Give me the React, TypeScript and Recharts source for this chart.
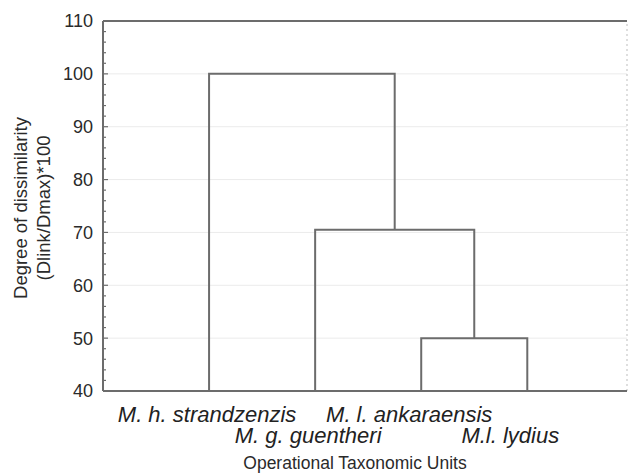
import React from 'react';
import { ScatterChart, Scatter, XAxis, YAxis, ReferenceLine } from 'recharts';

// Leaves (operational taxonomic units) in dendrogram order
const LEAVES = ['M. h. strandzenzis', 'M. g. guentheri', 'M. l. ankaraensis', 'M.l. lydius'];
const LEAF_POS = [1, 2, 3, 4];
const LEAF_HEIGHT = 40;

// Joins: node ids 0-3 are leaves, each join creates node 4, 5, 6...
const JOIN_LEFT = [2, 1, 0];
const JOIN_RIGHT = [3, 4, 5];
const JOIN_HEIGHT = [50, 70.5, 100];

const Y_MAJOR = [40, 50, 60, 70, 80, 90, 100, 110];
const X_DOMAIN = [0, 4.94];

const FONT = '"Liberation Sans", Arial, sans-serif';
const LINE = '#6c6c6c';

// build the U-shaped links from the join table
const buildLinks = () => {
    const nodeX = [...LEAF_POS];
    const nodeH = LEAF_POS.map(() => LEAF_HEIGHT);
    return JOIN_HEIGHT.map((h, k) => {
        const l = JOIN_LEFT[k];
        const r = JOIN_RIGHT[k];
        nodeX.push((nodeX[l] + nodeX[r]) / 2);
        nodeH.push(h);
        return [
            { x: nodeX[l], y: nodeH[l] },
            { x: nodeX[l], y: h },
            { x: nodeX[r], y: h },
            { x: nodeX[r], y: nodeH[r] },
        ];
    });
};

const LINKS = buildLinks();

// major + minor (every 2) ticks
const Y_TICKS: number[] = [];
for (let v = Y_MAJOR[0]; v <= Y_MAJOR[Y_MAJOR.length - 1]; v += 2) Y_TICKS.push(v);

const YTick = (props: any) => {
    const { x, y, payload } = props;
    const major = payload.value % 10 === 0;
    return (
        <g>
            {payload.value !== 40 && payload.value !== 110 && (
                <line x1={x} x2={x + (major ? 5 : 3)} y1={y} y2={y} stroke={LINE} strokeWidth={1.2} />
            )}
            {major && (
                <text x={x - 10} y={y} dy="0.36em" textAnchor="end" fontSize={18} fill="#2a2a2a" fontFamily={FONT}>
                    {payload.value}
                </text>
            )}
        </g>
    );
};

const XTick = (props: any) => {
    const { x, y, payload } = props;
    const i = LEAF_POS.indexOf(payload.value);
    if (i < 0) return null;
    const row = i % 2;
    return (
        <text
            x={x - 2 - i * 5}
            y={y}
            dy={row === 0 ? 31 : 52}
            textAnchor="middle"
            fontSize={22}
            fontStyle="italic"
            fill="#222"
            fontFamily={FONT}
        >
            {LEAVES[i]}
        </text>
    );
};

const YLabel = (props: any) => {
    const { x, y, height } = props.viewBox;
    const cy = y + height / 2 + 2;
    return (
        <g fontFamily={FONT} fontSize={18.5} fill="#2a2a2a" textAnchor="middle">
            <text x={x + 20} y={cy} dy="0.36em" transform={`rotate(-90, ${x + 20}, ${cy})`}>Degree of dissimilarity</text>
            <text x={x + 43} y={cy} dy="0.36em" transform={`rotate(-90, ${x + 43}, ${cy})`}>(Dlink/Dmax)*100</text>
        </g>
    );
};

const XLabel = (props: any) => {
    const { x, y, width } = props.viewBox;
    return (
        <text x={x + width / 2 - 10} y={y + 78} textAnchor="middle" fontSize={17.5} fill="#2a2a2a" fontFamily={FONT}>
            Operational Taxonomic Units
        </text>
    );
};

const App = () => {
    return (
        <div style={{ position: 'absolute', left: 0, top: 0, background: '#fff' }}>
            <ScatterChart width={629} height={475} margin={{ top: 21, right: 2, left: 0, bottom: 0 }}>
                <XAxis
                    type="number"
                    dataKey="x"
                    domain={X_DOMAIN}
                    ticks={LEAF_POS}
                    allowDataOverflow
                    height={84}
                    tickSize={0}
                    tickMargin={0}
                    tickLine={false}
                    axisLine={{ stroke: LINE, strokeWidth: 2 }}
                    tick={<XTick />}
                    interval={0}
                    label={<XLabel />}
                />
                <YAxis
                    type="number"
                    dataKey="y"
                    domain={[Y_MAJOR[0], Y_MAJOR[Y_MAJOR.length - 1]]}
                    ticks={Y_TICKS}
                    allowDataOverflow
                    width={103}
                    tickSize={0}
                    tickMargin={0}
                    tickLine={false}
                    axisLine={{ stroke: LINE, strokeWidth: 2 }}
                    tick={<YTick />}
                    interval={0}
                    label={<YLabel />}
                />
                {Y_MAJOR.slice(1, -1).map((v) => (
                    <ReferenceLine key={v} y={v} stroke="#ebebeb" strokeWidth={1} />
                ))}
                <ReferenceLine y={Y_MAJOR[Y_MAJOR.length - 1]} stroke={LINE} strokeWidth={2} />
                <ReferenceLine x={X_DOMAIN[1]} stroke="#bdbdbd" strokeWidth={1} strokeDasharray="2 3" />
                {LINKS.map((pts, k) => (
                    <Scatter
                        key={k}
                        data={pts}
                        line={{ stroke: LINE, strokeWidth: 2 }}
                        lineType="joint"
                        shape={() => <g />}
                        isAnimationActive={false}
                    />
                ))}
            </ScatterChart>
        </div>
    );
};

export default App;
